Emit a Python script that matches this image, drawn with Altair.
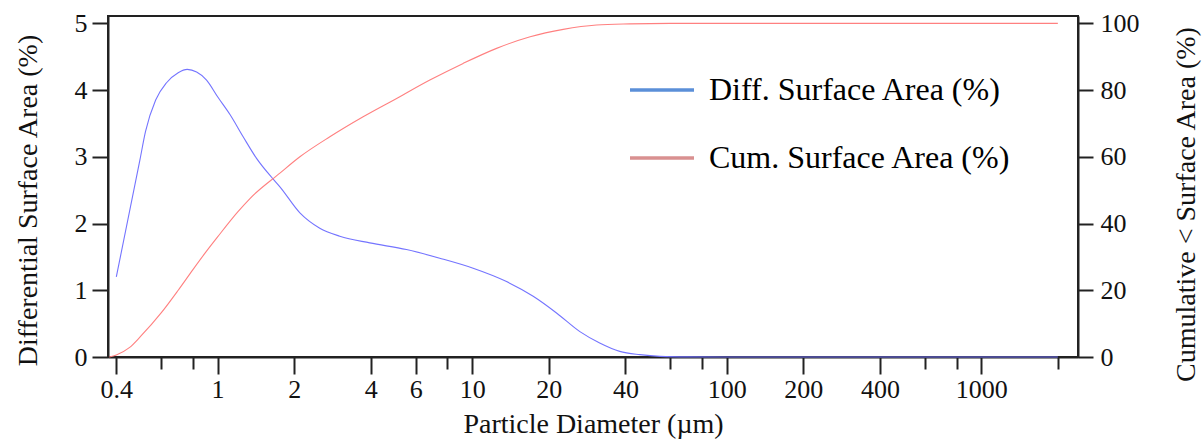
import altair as alt
import pandas as pd

FONT = "Liberation Serif"

# Differential surface area distribution (%), per particle diameter (µm)
diff_diameter = [0.40, 0.495, 0.521, 0.571, 0.630, 0.700, 0.760, 0.827, 0.905, 1.00,
                 1.12, 1.26, 1.42, 1.64, 1.757, 2.105, 2.52, 3.02, 3.96, 5.52, 7.46,
                 10.09, 13.65, 17.37, 21.45, 26.5, 31.7, 38.0, 45.6, 54.7, 70.0,
                 100.0, 2000.0]
diff_value = [1.20, 2.95, 3.38, 3.85, 4.11, 4.26, 4.31, 4.27, 4.15, 3.90,
              3.63, 3.30, 2.98, 2.68, 2.55, 2.16, 1.93, 1.81, 1.71, 1.61, 1.48,
              1.33, 1.13, 0.91, 0.66, 0.38, 0.21, 0.084, 0.035, 0.01, 0.002,
              0.0, 0.0]

# Cumulative surface area below each diameter (%)
cum_diameter = [0.375, 0.40, 0.45, 0.50, 0.60, 0.70, 0.80, 0.90, 1.00, 1.20, 1.34,
                1.757, 2.105, 2.76, 3.73, 5.05, 6.82, 9.22, 12.47, 16.9, 22.8,
                30.8, 41.6, 60.0, 2000.0]
cum_value = [0.0, 0.6, 2.8, 6.3, 13.2, 20.0, 26.2, 31.5, 36.0, 43.5, 47.5,
             55.1, 60.0, 66.0, 72.0, 77.5, 83.0, 88.0, 92.5, 96.0, 98.2,
             99.5, 99.85, 100.0, 100.0]

major_ticks = [0.4, 1, 2, 4, 6, 10, 20, 40, 100, 200, 400, 1000]
minor_ticks = [0.6, 0.8, 8, 60, 80, 600, 800, 2000]

DIFF = "Diff. Surface Area (%)"
CUM = "Cum. Surface Area (%)"

df = pd.concat([
    pd.DataFrame({"d": diff_diameter, "v": diff_value, "series": DIFF}),
    pd.DataFrame({"d": cum_diameter, "v": cum_value, "series": CUM}),
])

minor_list = "[" + ",".join(str(t) for t in minor_ticks) + "]"
is_minor = f"indexof({minor_list}, datum.value) >= 0"

x_scale = alt.Scale(type="log", domain=[0.371, 2400], nice=False)
x_axis = alt.Axis(
    values=major_ticks + minor_ticks,
    tickSize={"condition": {"test": is_minor, "value": 12}, "value": 17},
    labelExpr=f"{is_minor} ? '' : format(datum.value, '~g')",
    labelPadding=2, labelFlush=False, labelOverlap=False, labelBound=False,
    title="Particle Diameter (µm)", titleBaseline="alphabetic", titleY=75,
)

base = alt.Chart(df)

diff_line = base.transform_filter(alt.datum.series == DIFF).mark_line(
    strokeWidth=1.1, interpolate="monotone", color="#7474ff"
).encode(
    x=alt.X("d:Q", scale=x_scale, axis=x_axis),
    y=alt.Y("v:Q", scale=alt.Scale(domain=[0, 5.11], nice=False, zero=True),
            axis=alt.Axis(values=[0, 1, 2, 3, 4, 5], tickSize=16, labelPadding=5,
                          title="Differential Surface Area (%)",
                          titleAngle=270, titleBaseline="middle",
                          titleX=-80, titleY=184)),
)

cum_line = base.transform_filter(alt.datum.series == CUM).mark_line(
    strokeWidth=1.1, interpolate="monotone", color="#ff8080"
).encode(
    x=alt.X("d:Q", scale=x_scale),
    y=alt.Y("v:Q", scale=alt.Scale(domain=[0, 102.2], nice=False, zero=True),
            axis=alt.Axis(orient="right", values=[0, 20, 40, 60, 80, 100],
                          tickSize=15, labelPadding=7,
                          title="Cumulative < Surface Area (%)",
                          titleAngle=270, titleBaseline="middle",
                          titleX=108, titleY=188)),
)

# Legend key: a series-coloured layer pushed past the x domain and clipped away,
# so only its legend entries show.
legend_key = base.transform_calculate(far="datum.d * 1e6").mark_line(
    strokeWidth=3.5, clip=True
).encode(
    x=alt.X("far:Q", scale=x_scale),
    color=alt.Color(
        "series:N",
        scale=alt.Scale(domain=[DIFF, CUM], range=["#5b8fd8", "#d99090"]),
        legend=alt.Legend(
            orient="none", legendX=520, legendY=40, title=None,
            symbolType="stroke", symbolSize=4096, symbolStrokeWidth=3.5,
            labelFont=FONT, labelFontSize=32, labelColor="#000", labelOffset=13,
            labelLimit=0, rowPadding=18, padding=0,
        ),
    ),
)

chart = alt.layer(diff_line, cum_line, legend_key).resolve_scale(
    y="independent"
).properties(
    width=970, height=341,
    autosize=alt.AutoSizeParams(type="none"),
    padding={"left": 108, "top": 16, "right": 126, "bottom": 83},
    background="white",
).configure_view(
    stroke="#222", strokeWidth=2
).configure_axis(
    labelFont=FONT, labelFontSize=26, labelColor="#111",
    titleFont=FONT, titleFontSize=28, titleFontWeight="normal", titleColor="#111",
    domainColor="#222", domainWidth=2, tickColor="#222", tickWidth=2,
    grid=False,
)

chart.save("out.html", embed_options={"renderer": "svg", "actions": False})
